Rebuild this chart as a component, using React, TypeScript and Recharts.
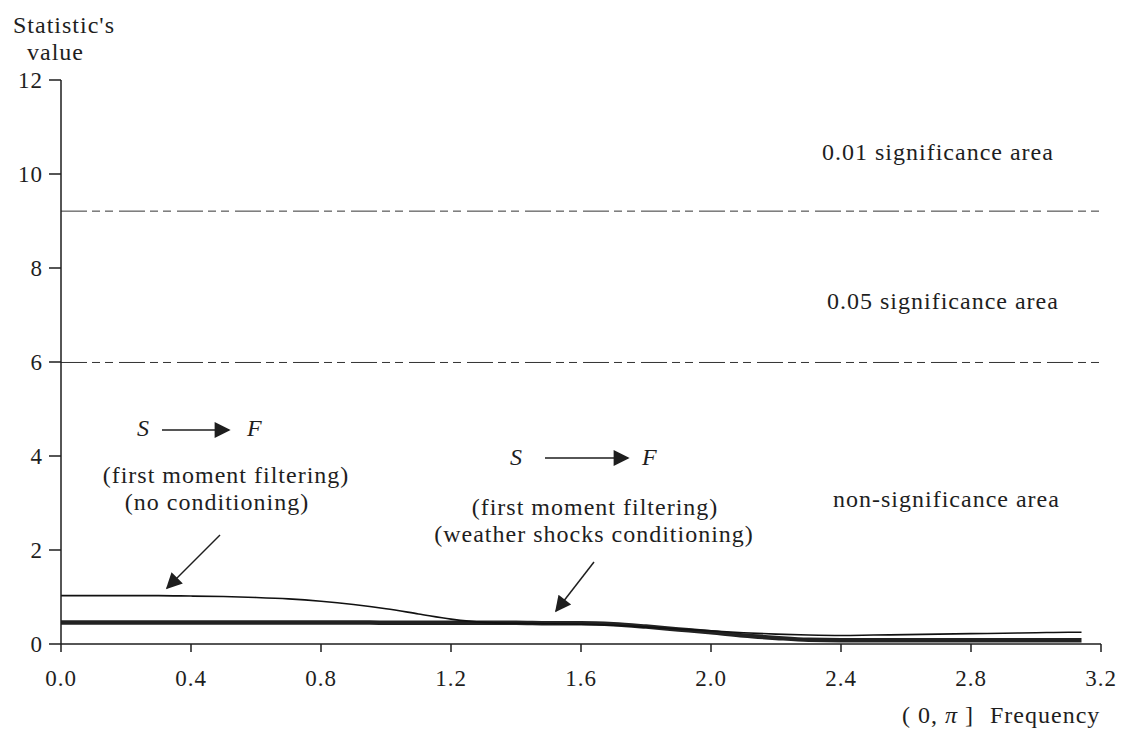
import React from 'react';
import { LineChart, Line, XAxis, YAxis, ReferenceLine } from 'recharts';

// frequency grid on (0, pi]
const freq = [0, 0.1, 0.2, 0.3, 0.4, 0.5, 0.6, 0.7, 0.8, 0.9, 1.0, 1.1, 1.2, 1.3, 1.4, 1.5, 1.6, 1.7, 1.8, 1.9, 2.0, 2.1, 2.2, 2.3, 2.4, 2.5, 2.6, 2.7, 2.8, 2.9, 3.0, 3.1, 3.14];

// S -> F, first moment filtering, no conditioning
const noConditioning = [1.03, 1.03, 1.03, 1.03, 1.02, 1.01, 0.99, 0.96, 0.91, 0.84, 0.75, 0.64, 0.53, 0.46, 0.44, 0.43, 0.42, 0.4, 0.36, 0.32, 0.28, 0.24, 0.21, 0.19, 0.18, 0.19, 0.2, 0.21, 0.22, 0.23, 0.24, 0.25, 0.25];

// S -> F, first moment filtering, weather shocks conditioning
const weatherConditioning = [0.46, 0.46, 0.46, 0.46, 0.46, 0.46, 0.46, 0.46, 0.46, 0.46, 0.45, 0.45, 0.45, 0.45, 0.45, 0.44, 0.44, 0.42, 0.37, 0.31, 0.25, 0.18, 0.13, 0.09, 0.08, 0.08, 0.08, 0.08, 0.08, 0.08, 0.08, 0.08, 0.08];

const xTicks = [0, 0.4, 0.8, 1.2, 1.6, 2.0, 2.4, 2.8, 3.2];
const yTicks = [0, 2, 4, 6, 8, 10, 12];

// chi-square(2) critical values
const criticalValues = [5.99, 9.21];

const data = freq.map((f, i) => ({
  freq: f,
  noCond: noConditioning[i],
  weather: weatherConditioning[i],
}));

const FONT = '"Liberation Serif", "Times New Roman", serif';
const INK = '#1e1e1e';

const txt = { fontFamily: FONT, fontSize: 24, fill: INK, letterSpacing: 1 };

export default function App() {
  return (
    <div style={{ position: 'absolute', left: 0, top: 0, width: 1124, height: 729, background: '#fff' }}>
      <LineChart
        width={1124}
        height={729}
        data={data}
        margin={{ top: 80, right: 23, left: 0, bottom: 0 }}
      >
        <XAxis
          dataKey="freq"
          type="number"
          domain={[0, 3.2]}
          ticks={xTicks}
          interval={0}
          height={85}
          tickSize={8}
          tickMargin={18}
          tickFormatter={(v: number) => v.toFixed(1)}
          stroke={INK}
          strokeWidth={1.5}
          tick={{ fontFamily: FONT, fontSize: 23, fill: INK, letterSpacing: 1 }}
        />
        <YAxis
          type="number"
          domain={[0, 12]}
          ticks={yTicks}
          interval={0}
          width={61}
          tickSize={12}
          tickMargin={6}
          stroke={INK}
          strokeWidth={1.5}
          tick={{ fontFamily: FONT, fontSize: 23, fill: INK, letterSpacing: 1 }}
        />
        {criticalValues.map((c) => (
          <ReferenceLine key={c} y={c} stroke="#333" strokeWidth={1} strokeDasharray="26 5 8 5 8 6" />
        ))}
        <Line
          type="monotone"
          dataKey="weather"
          stroke="#222"
          strokeWidth={4.5}
          dot={false}
          isAnimationActive={false}
        />
        <Line
          type="monotone"
          dataKey="noCond"
          stroke="#111"
          strokeWidth={1.6}
          dot={false}
          isAnimationActive={false}
        />
      </LineChart>

      <svg
        width={1124}
        height={729}
        style={{ position: 'absolute', left: 0, top: 0, pointerEvents: 'none' }}
      >
        <defs>
          <marker id="head" viewBox="0 0 10 10" refX="9" refY="5" markerWidth="7" markerHeight="7" orient="auto" markerUnits="userSpaceOnUse">
            <path d="M0,0 L10,5 L0,10 z" fill={INK} />
          </marker>
          <marker id="bighead" viewBox="0 0 10 10" refX="9" refY="5" markerWidth="20" markerHeight="16" orient="auto" markerUnits="userSpaceOnUse">
            <path d="M0,0 L10,5 L0,10 z" fill={INK} />
          </marker>
        </defs>

        {/* axis title */}
        <text x={13} y={33} style={txt}>Statistic's</text>
        <text x={27} y={60} style={txt}>value</text>

        {/* significance regions */}
        <text x={822} y={160} style={txt}>0.01 significance area</text>
        <text x={827} y={309} style={txt}>0.05 significance area</text>
        <text x={833} y={507} style={txt}>non-significance area</text>

        {/* first annotation */}
        <text x={137} y={436} style={{ ...txt, fontStyle: 'italic' }}>S</text>
        <line x1={162} y1={430} x2={229} y2={430} stroke={INK} strokeWidth={1.5} markerEnd="url(#bighead)" />
        <text x={247} y={436} style={{ ...txt, fontStyle: 'italic' }}>F</text>
        <text x={226} y={483} textAnchor="middle" style={txt}>(first moment filtering)</text>
        <text x={217} y={510} textAnchor="middle" style={txt}>(no conditioning)</text>
        <line x1={220} y1={535} x2={167} y2={588} stroke={INK} strokeWidth={1.5} markerEnd="url(#bighead)" />

        {/* second annotation */}
        <text x={510} y={465} style={{ ...txt, fontStyle: 'italic' }}>S</text>
        <line x1={545} y1={458} x2={628} y2={458} stroke={INK} strokeWidth={1.5} markerEnd="url(#bighead)" />
        <text x={642} y={465} style={{ ...txt, fontStyle: 'italic' }}>F</text>
        <text x={595} y={515} textAnchor="middle" style={txt}>(first moment filtering)</text>
        <text x={594} y={542} textAnchor="middle" style={txt}>(weather shocks conditioning)</text>
        <line x1={594} y1={562} x2={556} y2={611} stroke={INK} strokeWidth={1.5} markerEnd="url(#bighead)" />

        {/* x axis title */}
        <text x={902} y={723} style={txt}>
          ( 0, <tspan fontStyle="italic">π</tspan> ]
        </text>
        <text x={990} y={723} style={txt}>Frequency</text>
      </svg>
    </div>
  );
}
